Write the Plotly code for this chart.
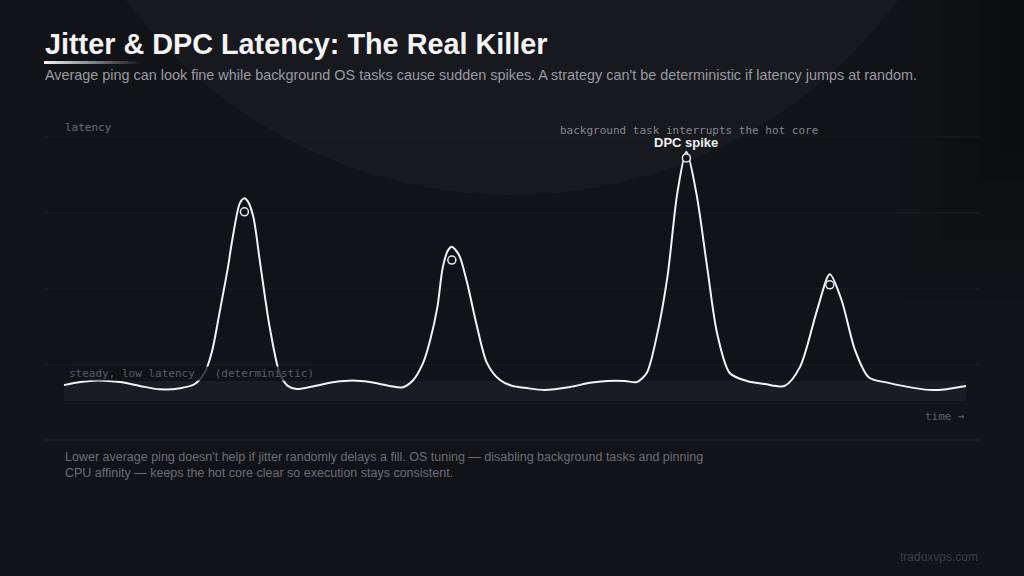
import plotly.graph_objects as go

# ---------------- data ----------------
time_pts = [0.0, 1.8, 3.7, 6.2, 8.4, 10.6, 12.9, 14.5, 15.6, 16.4, 17.3, 18.2, 18.6, 19.5, 20.0, 20.4,
            21.0, 21.7, 22.8, 23.9, 24.8, 25.8, 27.8, 30.0, 32.0, 33.9, 36.1, 37.5, 38.7, 39.8, 40.6,
            41.4, 42.0, 42.6, 43.0, 43.5, 43.9, 44.7, 45.8, 46.9, 48.3, 49.7, 51.1, 53.3, 56.1, 58.3,
            60.2, 62.2, 63.5, 64.6, 65.7, 66.9, 68.0, 69.0, 70.1, 71.3, 72.4, 73.8, 75.7, 77.7, 79.9,
            81.6, 83.5, 84.9, 86.2, 87.7, 89.2, 91.4, 96.3, 100.0]
latency = [0.47, 0.55, 0.59, 0.55, 0.45, 0.36, 0.39, 0.50, 0.80, 1.35, 2.45, 3.60, 4.21, 5.26, 5.39, 5.30,
           4.89, 3.76, 2.00, 0.79, 0.45, 0.37, 0.45, 0.55, 0.59, 0.55, 0.45, 0.41, 0.60, 1.05, 1.66,
           2.53, 3.58, 4.03, 4.11, 4.00, 3.84, 3.16, 2.00, 1.05, 0.61, 0.45, 0.40, 0.34, 0.42, 0.53,
           0.58, 0.58, 0.55, 0.79, 1.74, 3.32, 5.53, 6.61, 5.53, 3.58, 1.84, 0.79, 0.58, 0.50, 0.45,
           0.95, 2.45, 3.39, 2.71, 1.39, 0.68, 0.53, 0.34, 0.45]

spike_time = [20.0, 43.0, 69.0, 84.9]
spike_latency = [5.03, 3.76, 6.45, 3.11]

grid_levels = [1, 3, 5, 7]
band_low, band_high = 0.05, 0.58

# ---------------- layout helpers ----------------
W, H = 1024, 576
L, R, T, B = 44, 44, 120, 136
PW, PH = W - L - R, H - T - B


def px(x):
    return (x - L) / PW


def py(y):
    return 1 - (y - T) / PH


BG = "#121317"
fig = go.Figure()

fig.add_trace(go.Scatter(
    x=time_pts, y=latency, mode="lines",
    line=dict(color="#f2f2f4", width=2, shape="spline", smoothing=0.8),
    hoverinfo="skip", showlegend=False,
))
fig.add_trace(go.Scatter(
    x=spike_time, y=spike_latency, mode="markers",
    marker=dict(size=8, color="#121317", line=dict(color="#e8e8ec", width=1.5)),
    hoverinfo="skip", showlegend=False,
))

shapes = []
# background circle glow
shapes.append(dict(type="circle", xref="paper", yref="paper",
                   x0=px(32), x1=px(992), y0=py(195), y1=py(-765),
                   fillcolor="#18191e", line=dict(width=0), layer="below"))
# dark right gradient
for i in range(6):
    shapes.append(dict(type="rect", xref="paper", yref="paper",
                       x0=px(900 + i * 20), x1=px(1024), y0=py(300 - i * 30), y1=py(0),
                       fillcolor="rgba(8,9,11,0.10)", line=dict(width=0), layer="below"))
# grid lines
for g in grid_levels:
    shapes.append(dict(type="line", xref="paper", yref="y", x0=0, x1=1, y0=g, y1=g,
                       line=dict(color="#1d1e23", width=1), layer="below"))
# steady band
shapes.append(dict(type="rect", xref="x", yref="y", x0=time_pts[0], x1=time_pts[-1],
                   y0=band_low, y1=band_high, fillcolor="#1b1c21", line=dict(width=0), layer="below"))
# separator
shapes.append(dict(type="line", xref="paper", yref="paper", x0=0, x1=1, y0=0, y1=0,
                   line=dict(color="#202127", width=1)))
# title underline gradient
n = 24
for i in range(n):
    x0 = 44 + i * 4
    shapes.append(dict(type="rect", xref="paper", yref="paper",
                       x0=px(x0), x1=px(x0 + 4), y0=py(64), y1=py(61),
                       fillcolor=f"rgba(240,240,244,{max(0.0, 1 - i / n):.3f})",
                       line=dict(width=0)))

SANS = "Liberation Sans, Arial, sans-serif"
MONO = "DejaVu Sans Mono, monospace"

ann = []


def text(t, x, y, size, color, font=SANS, xanchor="left", bold=False, bg=None):
    d = dict(text=f"<b>{t}</b>" if bold else t, xref="paper", yref="paper",
             x=px(x), y=py(y), xanchor=xanchor, yanchor="middle", showarrow=False,
             font=dict(family=font, size=size, color=color))
    if bg:
        d["bgcolor"] = bg
        d["borderpad"] = 0
    ann.append(d)


text("Jitter &amp; DPC Latency: The Real Killer", 43, 44, 28.8, "#f4f4f6", bold=True)
text("Average ping can look fine while background OS tasks cause sudden spikes. "
     "A strategy can't be deterministic if latency jumps at random.", 43, 75, 14.4, "#9a9ba4")
text("latency", 63, 127, 11, "#6a6b73", font=MONO)
text("background task interrupts the hot core", 558, 130, 11, "#85868e", font=MONO)
text("DPC spike", 686, 142, 13, "#f0f0f2", xanchor="center", bold=True)
text("steady, low latency\u00a0\u00a0\u00a0(deterministic)", 68, 373, 11, "#5a5b63", font=MONO,
     bg="rgba(18,19,23,0.8)")
text("time \u2192", 967, 416, 11, "#5f6068", font=MONO, xanchor="right")
text("Lower average ping doesn't help if jitter randomly delays a fill. OS tuning \u2014 "
     "disabling background tasks and pinning", 63, 457, 12.5, "#6c6d76")
text("CPU affinity \u2014 keeps the hot core clear so execution stays consistent.",
     63, 473, 12.5, "#6c6d76")
text("tradoxvps.com", 980, 557, 12, "#3c3d45", xanchor="right")

fig.update_layout(
    width=W, height=H,
    margin=dict(l=L, r=R, t=T, b=B),
    paper_bgcolor=BG, plot_bgcolor="rgba(0,0,0,0)",
    shapes=shapes, annotations=ann,
    xaxis=dict(range=[-20 / 9.02, 916 / 9.02], visible=False, fixedrange=True),
    yaxis=dict(range=[(403 - 440) / 38, (403 - 120) / 38], visible=False, fixedrange=True),
    showlegend=False,
)

fig.write_html("out.html", config={"displayModeBar": False})
